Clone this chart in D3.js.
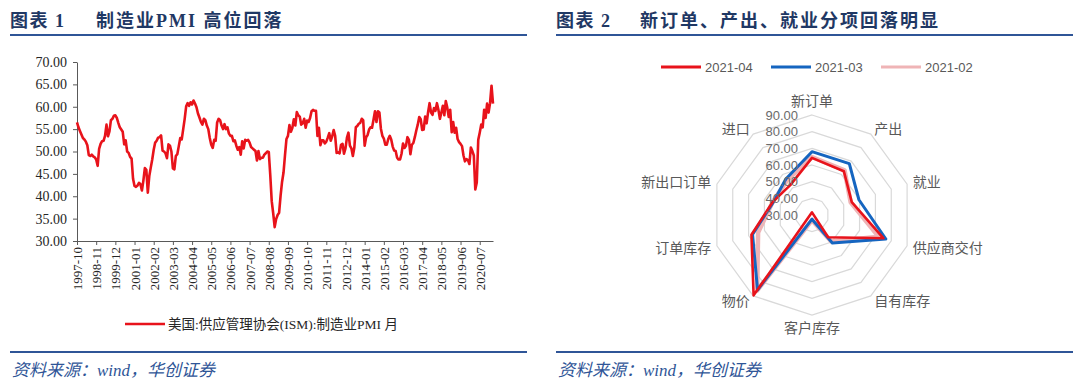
<!DOCTYPE html>
<html>
<head>
<meta charset="utf-8">
<script src="https://d3js.org/d3.v7.min.js"></script>
<style>
  body { margin: 0; background: #fff; }
</style>
</head>
<body>
<script>
// ---------- data ----------
// US ISM manufacturing PMI, monthly, 1997-10 .. 2021-04
var pmi = [
  56.5, 55.4, 54.6,                                                   // 1997 (Oct-Dec)
  53.8, 53.0, 52.7, 52.2, 51.4, 49.2, 49.0, 49.3, 48.9, 48.7, 48.2, 46.8, // 1998
  50.6, 51.7, 52.3, 52.4, 53.5, 56.0, 53.4, 54.5, 57.0, 57.3, 58.0, 58.1, // 1999
  57.5, 56.4, 55.4, 54.9, 54.4, 51.6, 52.5, 50.0, 49.7, 48.8, 48.4, 43.9, // 2000
  42.3, 42.1, 42.4, 43.0, 42.7, 41.3, 43.5, 46.3, 45.9, 40.8, 44.5, 46.4, // 2001
  48.2, 50.4, 52.0, 52.4, 53.1, 53.2, 53.6, 50.2, 50.0, 49.6, 48.5, 51.6, // 2002
  51.3, 50.0, 46.2, 46.0, 49.0, 49.4, 51.2, 53.0, 52.7, 55.0, 57.3, 60.1, // 2003
  60.8, 60.2, 61.0, 60.5, 61.4, 60.7, 59.9, 58.5, 57.6, 56.6, 56.0, 57.3, // 2004
  57.0, 55.8, 55.0, 53.0, 51.5, 50.8, 52.6, 52.4, 56.5, 57.3, 57.0, 55.8, // 2005
  55.0, 56.1, 55.0, 55.4, 54.0, 53.5, 53.5, 52.3, 52.5, 51.3, 50.4, 51.0, // 2006
  49.3, 52.3, 50.7, 52.6, 52.4, 52.6, 52.0, 51.0, 50.7, 50.4, 50.1, 48.0, // 2007
  50.1, 48.3, 48.6, 48.6, 49.3, 49.6, 50.0, 49.9, 44.8, 38.9, 36.2, 33.1, // 2008
  34.9, 35.8, 36.3, 40.1, 43.2, 45.3, 49.2, 52.8, 53.5, 55.9, 54.4, 55.3, // 2009
  57.2, 55.8, 58.8, 58.1, 57.8, 56.0, 56.3, 57.3, 55.3, 56.9, 56.6, 57.5, // 2010
  59.0, 59.3, 59.1, 59.1, 53.5, 55.3, 51.4, 52.5, 52.5, 51.8, 52.2, 53.1, // 2011
  54.1, 52.4, 53.4, 54.8, 53.5, 49.7, 49.8, 49.6, 51.5, 51.7, 49.5, 50.7, // 2012
  53.1, 54.2, 51.3, 50.7, 49.0, 50.9, 55.4, 55.7, 56.2, 56.4, 57.3, 57.0, // 2013
  51.3, 53.2, 53.7, 54.9, 55.4, 55.3, 57.1, 59.0, 56.6, 59.0, 58.7, 55.1, // 2014
  53.5, 52.9, 51.5, 51.5, 52.8, 53.5, 52.7, 51.1, 50.2, 50.1, 48.6, 48.2, // 2015
  48.2, 49.5, 51.8, 50.8, 51.3, 53.2, 52.6, 49.4, 51.5, 51.9, 53.2, 54.7, // 2016
  56.0, 57.7, 57.2, 54.8, 54.9, 57.8, 56.3, 58.8, 60.8, 58.7, 58.2, 59.7, // 2017
  59.1, 60.8, 59.3, 57.3, 58.7, 60.2, 58.1, 61.3, 59.8, 57.7, 59.3, 54.3, // 2018
  56.6, 54.2, 55.3, 52.8, 52.1, 51.7, 51.2, 49.1, 47.8, 48.3, 48.1, 47.2, // 2019
  50.9, 50.1, 49.1, 41.5, 43.1, 52.6, 54.2, 56.0, 55.4, 59.3, 57.5, 60.7, // 2020
  58.7, 60.8, 64.7, 60.7                                              // 2021 (Jan-Apr)
];
var xTickLabels = ["1997-10", "1998-11", "1999-12", "2001-01", "2002-02", "2003-03",
  "2004-04", "2005-05", "2006-06", "2007-07", "2008-08", "2009-09", "2010-10",
  "2011-11", "2012-12", "2014-01", "2015-02", "2016-03", "2017-04", "2018-05",
  "2019-06", "2020-07"];
var yTicks = [30, 35, 40, 45, 50, 55, 60, 65, 70];
var pmiLegend = "美国:供应管理协会(ISM):制造业PMI 月";

// ISM sub-indices for the radar chart
var radarCats = ["新订单", "产出", "就业", "供应商交付", "自有库存",
  "客户库存", "物价", "订单库存", "新出口订单", "进口"];
var radarSeries = ["2021-04", "2021-03", "2021-02"];
var apr2021 = [64.3, 62.5, 55.1, 75.0, 46.5, 28.4, 89.6, 68.2, 54.9, 52.2];
var mar2021 = [68.0, 68.1, 59.6, 76.6, 50.8, 32.5, 85.6, 67.5, 54.5, 56.7];
var feb2021 = [64.8, 63.2, 54.4, 72.0, 49.7, 33.1, 86.0, 64.0, 54.9, 55.6];
var radarTicks = [30, 40, 50, 60, 70, 80, 90];

// month labels for the category axis
var months = d3.timeMonth.range(new Date(1997, 9, 1), new Date(2021, 4, 1))
  .map(d3.timeFormat("%Y-%m"));

// ---------- page ----------
var svg = d3.select("body").append("svg")
    .attr("width", 1080)
    .attr("height", 385);

svg.append("rect")
    .attr("width", "100%")
    .attr("height", "100%")
    .attr("fill", "#ffffff");

var navy = "#1F3864",
    rule = "#2F5597",
    serif = "'Liberation Serif', 'Noto Sans CJK SC', serif",
    sans = "'Liberation Sans', 'Noto Sans CJK SC', sans-serif";

// titles, rules and source lines for both panels
[{x0: 10, x1: 527, num: "图表 1", title: "制造业PMI 高位回落", tx: 96},
 {x0: 556, x1: 1073, num: "图表 2", title: "新订单、产出、就业分项回落明显", tx: 640}]
.forEach(function(p) {
  svg.append("text")
      .attr("x", p.x0).attr("y", 27)
      .attr("font-family", serif).attr("font-weight", "bold")
      .attr("font-size", "18px").attr("letter-spacing", "1.5px").attr("fill", navy)
      .text(p.num);
  svg.append("text")
      .attr("x", p.tx).attr("y", 27)
      .attr("font-family", serif).attr("font-weight", "bold")
      .attr("font-size", "18px").attr("letter-spacing", "2px").attr("fill", navy)
      .text(p.title);
  svg.append("line")
      .attr("x1", p.x0).attr("x2", p.x1).attr("y1", 35).attr("y2", 35)
      .attr("stroke", rule).attr("stroke-width", 2);
  svg.append("line")
      .attr("x1", p.x0).attr("x2", p.x1).attr("y1", 352).attr("y2", 352)
      .attr("stroke", rule).attr("stroke-width", 2);
  svg.append("text")
      .attr("x", p.x0 + 2).attr("y", 376)
      .attr("font-family", serif).attr("font-style", "italic")
      .attr("font-size", "17px").attr("fill", rule)
      .text("资料来源：wind，华创证券");
});

// ---------- left: PMI line ----------
var x = d3.scalePoint()
    .domain(months)
    .range([77, 493]);
var y = d3.scaleLinear()
    .domain([30, 70])
    .range([241, 62]);

var yAxis = svg.append("g")
    .attr("transform", "translate(77,0)")
    .call(d3.axisLeft(y).tickValues(yTicks).tickFormat(d3.format(".2f"))
      .tickSize(4).tickSizeOuter(0).tickPadding(6));
yAxis.selectAll("text")
    .attr("font-family", serif).attr("font-size", "14px").attr("fill", "#262626");

var xAxis = svg.append("g")
    .attr("transform", "translate(0,241)")
    .call(d3.axisBottom(x).tickValues(xTickLabels).tickSize(4).tickSizeOuter(0));
xAxis.selectAll("text")
    .attr("transform", "rotate(-90)")
    .attr("text-anchor", "end")
    .attr("x", -6).attr("y", 0).attr("dy", "0.35em")
    .attr("font-family", serif).attr("font-size", "13px").attr("fill", "#262626");

svg.selectAll(".domain, .tick line").attr("stroke", "#595959");

var line = d3.line()
    .x(function(d, i) { return x(months[i]); })
    .y(function(d) { return y(d); });

svg.append("path")
    .datum(pmi)
    .attr("d", line)
    .attr("fill", "none")
    .attr("stroke", "#E8131B")
    .attr("stroke-width", 2.6)
    .attr("stroke-linejoin", "round");

// legend
svg.append("line")
    .attr("x1", 125).attr("x2", 165).attr("y1", 324).attr("y2", 324)
    .attr("stroke", "#E8131B").attr("stroke-width", 2.6);
svg.append("text")
    .attr("x", 168).attr("y", 324).attr("dy", "0.35em")
    .attr("font-family", serif).attr("font-size", "13.5px").attr("fill", "#262626")
    .text(pmiLegend);

// ---------- right: radar ----------
var cx = 812, cy = 215;
var r = d3.scaleLinear().domain([30, 90]).range([0, 100]);
var angle = d3.scalePoint().domain(radarCats).range([0, 2 * Math.PI * 9 / 10]);

var radar = svg.append("g").attr("transform", "translate(" + cx + "," + cy + ")");

var ring = d3.lineRadial()
    .angle(function(d) { return angle(d); })
    .curve(d3.curveLinearClosed);

radar.selectAll(".ring")
    .data(radarTicks.slice(1))
  .enter().append("path")
    .attr("class", "ring")
    .attr("d", function(v) { return ring.radius(r(v))(radarCats); })
    .attr("fill", "none")
    .attr("stroke", "#D9D9D9")
    .attr("stroke-width", 1.2);

var seriesLine = d3.lineRadial()
    .angle(function(d, i) { return angle(radarCats[i]); })
    .radius(function(d) { return r(d); })
    .curve(d3.curveLinearClosed);

var radarData = [
  {name: radarSeries[2], values: feb2021, color: "#EFB4B6", width: 4.5},
  {name: radarSeries[1], values: mar2021, color: "#1565C0", width: 3},
  {name: radarSeries[0], values: apr2021, color: "#E8131B", width: 2.6}
];

radar.selectAll(".series")
    .data(radarData)
  .enter().append("path")
    .attr("class", "series")
    .attr("d", function(d) { return seriesLine(d.values); })
    .attr("fill", "none")
    .attr("stroke", function(d) { return d.color; })
    .attr("stroke-width", function(d) { return d.width; })
    .attr("stroke-linejoin", "round");

// value labels along the vertical axis
radar.selectAll(".rtick")
    .data(radarTicks)
  .enter().append("text")
    .attr("x", -14)
    .attr("y", function(v) { return -r(v); })
    .attr("dy", "0.35em")
    .attr("text-anchor", "end")
    .attr("font-family", sans).attr("font-size", "13px").attr("fill", "#6B6B6B")
    .text(d3.format(".2f"));

// category labels
radar.selectAll(".cat")
    .data(radarCats)
  .enter().append("text")
    .each(function(c) {
      var a = angle(c), s = Math.sin(a), k = -Math.cos(a);
      var px = 106 * s, py = 106 * k;
      var anchor = Math.abs(s) < 0.1 ? "middle" : (s > 0 ? "start" : "end");
      if (Math.abs(s) < 0.1) py += k < 0 ? -8 : 7;
      d3.select(this)
          .attr("x", px).attr("y", py).attr("dy", "0.35em")
          .attr("text-anchor", anchor);
    })
    .attr("font-family", sans).attr("font-size", "14px").attr("fill", "#595959")
    .text(function(c) { return c; });

// legend
var legend = svg.selectAll(".rleg")
    .data(radarData.slice().reverse())
  .enter().append("g")
    .attr("transform", function(d, i) { return "translate(" + (661 + i * 110) + ",67)"; });
legend.append("line")
    .attr("x1", 0).attr("x2", 40)
    .attr("stroke", function(d) { return d.color; })
    .attr("stroke-width", 3);
legend.append("text")
    .attr("x", 44).attr("dy", "0.35em")
    .attr("font-family", sans).attr("font-size", "13px").attr("fill", "#595959")
    .text(function(d) { return d.name; });
</script>
</body>
</html>
